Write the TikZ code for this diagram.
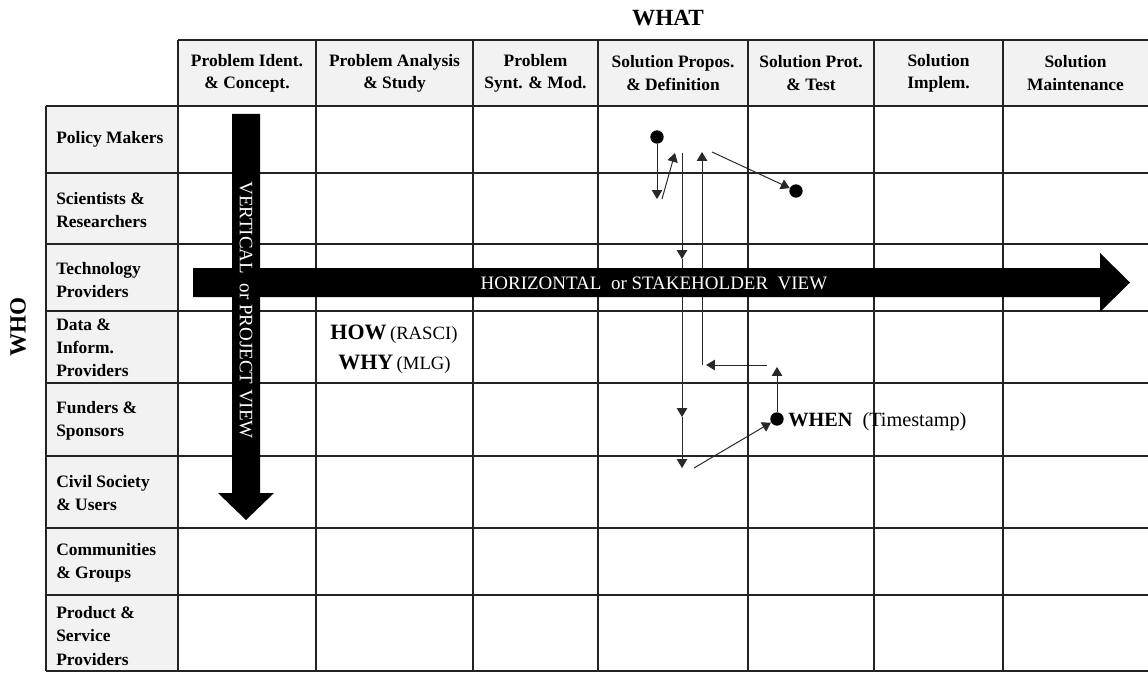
\documentclass[tikz,border=0pt]{standalone}
\usepackage{fontspec}
\setmainfont{Liberation Serif}
\usetikzlibrary{arrows.meta}
\definecolor{cellgrey}{RGB}{242,242,242}
\definecolor{gridgrey}{RGB}{35,35,35}
\definecolor{linkgrey}{RGB}{40,40,40}

\begin{document}
\begin{tikzpicture}[x=0.025cm, y=-0.025cm,
    headtext/.style={font=\fontsize{12.4}{15.8}\selectfont\bfseries, align=center, inner sep=0pt},
    rowtext/.style={font=\fontsize{12.4}{16.4}\selectfont\bfseries, align=left, anchor=west, inner sep=0pt},
    bigtext/.style={font=\fontsize{16.5}{19}\selectfont\bfseries, inner sep=0pt},
    viewtext/.style={white, font=\fontsize{13.5}{16}\selectfont, inner sep=0pt},
    gridline/.style={gridgrey, line width=1.1pt},
    link/.style={linkgrey, line width=0.7pt, -{Triangle[length=6.3pt,width=7.4pt]}},
    dot/.style={circle, fill=black, inner sep=0pt, minimum size=9.5pt}]
        \useasboundingbox (0,0) rectangle (1148,675);

        % Shaded header row and stakeholder column
        \fill[cellgrey] (178,40) rectangle (1148,106);
        \fill[cellgrey] (46,106) rectangle (178,671);

        % Table lines
        \draw[gridline] (178,40) -- (1148,40)
          (46,106) -- (1148,106)
          (46,173) -- (1148,173)
          (46,244) -- (1148,244)
          (46,311) -- (1148,311)
          (46,383) -- (1148,383)
          (46,456) -- (1148,456)
          (46,528) -- (1148,528)
          (46,595) -- (1148,595)
          (46,671) -- (1148,671);
        \draw[gridline] (46,106) -- (46,671)
          (178,40) -- (178,671)
          (316,40) -- (316,671)
          (473,40) -- (473,671)
          (598,40) -- (598,671)
          (748,40) -- (748,671)
          (874,40) -- (874,671)
          (1003,40) -- (1003,671);

        % Axis titles
        \node[bigtext] (what) at (668,18) {WHAT};
        \node[bigtext, rotate=90] (who) at (18,327) {WHO};

        % Phases
        \node[headtext] (hident) at (247,73) {Problem Ident.\\ \& Concept.};
        \node[headtext] (hanalysis) at (394.5,73) {Problem Analysis\\ \& Study};
        \node[headtext] (hsynt) at (535.5,73) {Problem\\ Synt. \& Mod.};
        \node[headtext] (hpropos) at (673,73) {Solution Propos.\\ \& Definition};
        \node[headtext] (hprot) at (811,73) {Solution Prot.\\ \& Test};
        \node[headtext] (himplem) at (938.5,73) {Solution\\ Implem.};
        \node[headtext] (hmaint) at (1075.5,73) {Solution\\ Maintenance};

        % Stakeholders
        \node[rowtext] (rpolicy) at (56,139) {Policy Makers};
        \node[rowtext] (rscience) at (56,210) {Scientists \&\\ Researchers};
        \node[rowtext] (rtech) at (56,280) {Technology\\ Providers};
        \node[rowtext] (rdata) at (56,348) {Data \&\\ Inform.\\ Providers};
        \node[rowtext] (rfund) at (56,420.5) {Funders \&\\ Sponsors};
        \node[rowtext] (rcivil) at (56,493) {Civil Society\\ \& Users};
        \node[rowtext] (rcomm) at (56,562.5) {Communities\\ \& Groups};
        \node[rowtext] (rprod) at (56,636) {Product \&\\ Service\\ Providers};

        % Trace of one project
        \node[dot] (startdot) at (657,137) {};
        \node[dot] (enddot) at (796,191) {};
        \node[dot] (whendot) at (777,419) {};
        \coordinate (p1) at (657,199);
        \coordinate (p2) at (662,199);
        \coordinate (p3) at (675,153);
        \coordinate (q0) at (682,153);
        \coordinate (q1) at (682,259);
        \coordinate (q2) at (682,417);
        \coordinate (q3) at (682,468);
        \coordinate (r0) at (694,468);
        \coordinate (s1) at (777,367);
        \coordinate (t0) at (767,365);
        \coordinate (t1) at (706,365);
        \coordinate (u0) at (702,365);
        \coordinate (u1) at (702,152);
        \coordinate (v0) at (712,152);
        \draw[link] (startdot) -- (p1);
        \draw[link] (p2) -- (p3);
        \draw[link] (q0) -- (q1);
        \draw[link] (q1) -- (q2);
        \draw[link] (q2) -- (q3);
        \draw[link] (r0) -- (whendot);
        \draw[link] (whendot) -- (s1);
        \draw[link] (t0) -- (t1);
        \draw[link] (u0) -- (u1);
        \draw[link] (v0) -- (enddot);

        % Big view arrows
        \fill[black] (193,268) -- (1100,268) -- (1100,253) -- (1130,282.5)
          -- (1100,312) -- (1100,297) -- (193,297) -- cycle;
        \fill[black] (232,114) -- (260,114) -- (260,493) -- (274,493)
          -- (246,520) -- (218,493) -- (232,493) -- cycle;
        \node[viewtext] (hview) at (654,283)
          {HORIZONTAL\ \ or STAKEHOLDER\ \ VIEW};
        \node[viewtext, rotate=-90] (vview) at (246,310)
          {VERTICAL\ \ or PROJECT VIEW};

        % Cell notes
        \node[anchor=base, inner sep=0pt] (how) at (394,339)
          {{\fontsize{15.6}{18}\selectfont\bfseries HOW}
           {\fontsize{13.3}{16}\selectfont (RASCI)}};
        \node[anchor=base, inner sep=0pt] (why) at (394.5,369)
          {{\fontsize{15.6}{18}\selectfont\bfseries WHY}
           {\fontsize{13.3}{16}\selectfont (MLG)}};
        \node[anchor=base west, inner sep=0pt, font=\fontsize{14.4}{17}\selectfont]
          (whentxt) at (788,426) {\textbf{WHEN}\ \ (Timestamp)};
      \end{tikzpicture}
\end{document}
